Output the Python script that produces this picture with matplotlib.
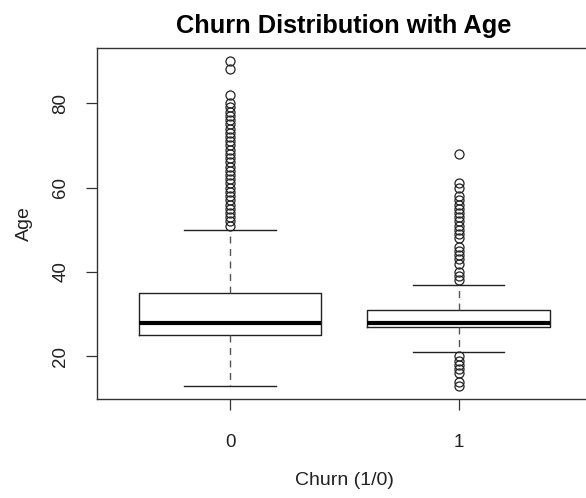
import matplotlib.pyplot as plt
import numpy as np

# summary stats
groups = ["0", "1"]
whislo = [13, 21]
q1 = [25, 27]
med = [28, 28]
q3 = [35, 31]
whishi = [50, 37]
fliers_0 = list(range(51, 80)) + [80, 82, 88, 90]
fliers_1 = [13, 14, 16, 17, 18, 19, 20] + [38, 39, 40, 42, 43, 44, 45, 46, 48, 49, 50, 51, 52, 53, 54, 55, 56, 57, 58, 60, 61, 68]
fliers = [fliers_0, fliers_1]

plt.rcParams['font.family'] = ['Liberation Sans', 'DejaVu Sans']

fig = plt.figure(figsize=(5.86, 4.98), dpi=100)
ax = fig.add_axes([0.1655, 0.1988, 0.8430, 0.7048])

stats = []
for i in range(len(groups)):
    stats.append(dict(label=groups[i], whislo=whislo[i], q1=q1[i], med=med[i],
                      q3=q3[i], whishi=whishi[i], fliers=fliers[i]))

lc = '#222222'
ax.bxp(stats, positions=[1, 2], widths=0.8, showcaps=True,
       boxprops=dict(color=lc, lw=1.0),
       medianprops=dict(color='black', lw=3.0, solid_capstyle='butt'),
       whiskerprops=dict(color='#555555', lw=1.0, linestyle=(0, (5, 4))),
       capprops=dict(color=lc, lw=1.0),
       flierprops=dict(marker='o', markerfacecolor='none', markeredgecolor=lc,
                       markersize=6.5, markeredgewidth=0.9),
       capwidths=0.4)

ax.set_xlim(0.417, 2.58)
ax.set_ylim(9.92, 93.08)
ax.set_xticks([1, 2])
ax.set_xticklabels(groups)
ax.set_yticks([20, 40, 60, 80])
ax.set_yticklabels(['20', '40', '60', '80'], rotation=90, va='center')
ax.tick_params(length=8, width=0.9, color='#333333', labelsize=13.5, labelcolor='#222222')
ax.tick_params(axis='x', pad=17)
ax.tick_params(axis='y', pad=12)
for s in ax.spines.values():
    s.set_color('#333333')
    s.set_linewidth(1.0)

ax.set_title('Churn Distribution with Age', fontsize=18.3, fontweight='bold', pad=11)
ax.set_xlabel('Churn (1/0)', fontsize=14, labelpad=15, color='#222222')
ax.set_ylabel('Age', fontsize=14, labelpad=14, color='#222222')

fig.savefig('out.png', dpi=100)
